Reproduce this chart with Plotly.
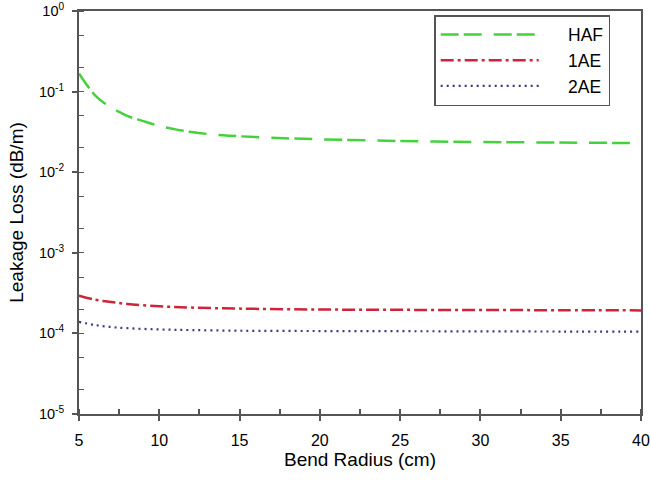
import plotly.graph_objects as go

# Data
haf_x = [5, 5.5, 6, 6.5, 7, 7.5, 8, 9, 10, 11, 12, 13, 14, 15, 17, 20, 25, 30, 35, 40]
haf_y = [0.168, 0.12, 0.090, 0.074, 0.064, 0.056, 0.050, 0.043, 0.0375, 0.034, 0.0315,
         0.0298, 0.0287, 0.0279, 0.0267, 0.0256, 0.0244, 0.0237, 0.0233, 0.0230]

ae1_x = [5, 6, 7, 8, 10, 12, 15, 20, 25, 30, 35, 40]
ae1_y = [2.94e-4, 2.62e-4, 2.45e-4, 2.32e-4, 2.17e-4, 2.09e-4, 2.03e-4, 1.98e-4, 1.96e-4, 1.95e-4, 1.94e-4, 1.93e-4]

ae2_x = [5, 6, 7, 8, 10, 12, 15, 20, 25, 30, 35, 40]
ae2_y = [1.39e-4, 1.27e-4, 1.20e-4, 1.16e-4, 1.12e-4, 1.10e-4, 1.08e-4, 1.07e-4, 1.065e-4, 1.06e-4, 1.055e-4, 1.05e-4]

series_names = ["HAF", "1AE", "2AE"]

y_tickvals = [1e-5, 1e-4, 1e-3, 1e-2, 1e-1, 1]
y_ticktext = ["10<sup>-5</sup>", "10<sup>-4</sup>", "10<sup>-3</sup>", "10<sup>-2</sup>",
              "10<sup>-1</sup>", "10<sup>0</sup>"]
x_tickvals = [5, 10, 15, 20, 25, 30, 35, 40]

font_family = "Liberation Sans, Arial, sans-serif"
axis_col = "#555555"
pad = "\u00a0" * 5

fig = go.Figure()
fig.add_trace(go.Scatter(x=haf_x, y=haf_y, mode="lines", name=pad + series_names[0], line_shape="spline",
                         line=dict(color="#44d23c", width=2.5, dash="18px,5px,18px,12px")))
fig.add_trace(go.Scatter(x=ae1_x, y=ae1_y, mode="lines", name=pad + series_names[1], line_shape="spline",
                         line=dict(color="#cc2438", width=2.5, dash="13px,4px,3px,4px")))
fig.add_trace(go.Scatter(x=ae2_x, y=ae2_y, mode="lines", name=pad + series_names[2], line_shape="spline",
                         line=dict(color="#3b3b86", width=2.2, dash="2px,4px")))

fig.update_layout(
    width=650, height=481,
    margin=dict(l=79, r=9, t=11, b=67),
    paper_bgcolor="white", plot_bgcolor="white",
    font=dict(family=font_family, size=15, color="black"),
    showlegend=True,
    legend=dict(x=0.632, y=0.99, xanchor="left", yanchor="top",
                bordercolor=axis_col, borderwidth=1.5, bgcolor="white",
                font=dict(size=17.5), itemwidth=98, tracegroupgap=0),
)
fig.update_xaxes(
    range=[5, 40], tickvals=x_tickvals, showgrid=False, zeroline=False, automargin=False,
    showline=True, linecolor=axis_col, linewidth=2, mirror=True,
    ticks="outside", ticklen=5, tickcolor=axis_col, tickwidth=1.5, ticklabelstandoff=6,
    minor=dict(dtick=2.5, ticks="inside", ticklen=5, tickcolor=axis_col, tickwidth=1.5, showgrid=False),
    title=dict(text="Bend Radius (cm)", font=dict(size=19), standoff=4),
    tickfont=dict(size=16),
)
fig.update_yaxes(
    type="log", range=[-5, 0], tickvals=y_tickvals, ticktext=y_ticktext,
    showgrid=False, zeroline=False, automargin=False,
    showline=True, linecolor=axis_col, linewidth=2, mirror=True,
    ticks="outside", ticklen=5, tickcolor=axis_col, tickwidth=1.5, ticklabelstandoff=5,
    minor=dict(ticks="inside", ticklen=5, tickcolor=axis_col, tickwidth=1, showgrid=False),
    title=dict(text="Leakage Loss (dB/m)", font=dict(size=19), standoff=10),
    tickfont=dict(size=14.5),
)

fig.write_html("out.html", config={"displayModeBar": False},
               post_script="document.body.style.margin='0';document.body.style.overflow='hidden';")
